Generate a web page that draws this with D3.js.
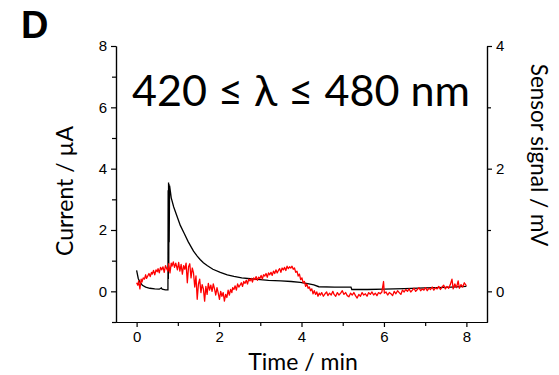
<!DOCTYPE html>
<html>
<head>
<meta charset="utf-8">
<script src="https://cdn.jsdelivr.net/npm/d3@7"></script>
<style>
  body { margin: 0; background: #fff; }
  svg text { fill: #000; }
</style>
</head>
<body>
<div id="chart"></div>
<script>
// current (left axis, µA) vs time (min)
const currentData = [
  [0.00, 0.68], [0.04, 0.42], [0.08, 0.30], [0.14, 0.20], [0.22, 0.14], [0.32, 0.10],
  [0.44, 0.08], [0.55, 0.07], [0.60, 0.11], [0.62, 0.07], [0.70, 0.05], [0.76, 0.05],
  [0.765, 3.30], [0.77, 0.40], [0.775, 3.55], [0.78, 0.90], [0.785, 3.50], [0.79, 1.60],
  [0.80, 3.45], [0.82, 3.25], [0.84, 3.05], [0.90, 2.75], [0.98, 2.45], [1.06, 2.15],
  [1.15, 1.90], [1.25, 1.62], [1.38, 1.31], [1.47, 1.15], [1.54, 1.04], [1.62, 0.93],
  [1.71, 0.84], [1.85, 0.72], [2.03, 0.62], [2.20, 0.54], [2.36, 0.49], [2.55, 0.44],
  [2.76, 0.41], [3.00, 0.38], [3.20, 0.36], [3.50, 0.34], [3.75, 0.32], [3.97, 0.29],
  [4.15, 0.25], [4.30, 0.21], [4.42, 0.15], [4.80, 0.14], [5.20, 0.14], [5.22, 0.06],
  [5.60, 0.06], [6.00, 0.07], [6.50, 0.09], [7.00, 0.11], [7.50, 0.13], [8.00, 0.16]
];

// sensor signal (right axis, mV) vs time (min)
const sensorData = [
  [0.00, 0.14], [0.03, 0.10], [0.05, 0.17], [0.08, 0.04], [0.11, 0.20], [0.13, 0.15],
  [0.16, 0.22], [0.19, 0.20], [0.22, 0.27], [0.24, 0.21], [0.27, 0.25], [0.30, 0.29],
  [0.33, 0.24], [0.36, 0.31], [0.38, 0.28], [0.41, 0.34], [0.44, 0.27], [0.47, 0.35],
  [0.50, 0.32], [0.52, 0.37], [0.55, 0.30], [0.58, 0.39], [0.61, 0.35], [0.64, 0.40],
  [0.67, 0.31], [0.70, 0.42], [0.73, 0.37], [0.76, 0.33], [0.78, 0.45], [0.81, 0.30],
  [0.84, 0.46], [0.86, 0.41], [0.89, 0.48], [0.92, 0.39], [0.95, 0.46], [0.99, 0.35],
  [1.02, 0.47], [1.05, 0.33], [1.08, 0.44], [1.11, 0.28], [1.14, 0.42], [1.17, 0.36],
  [1.20, 0.46], [1.23, 0.14], [1.26, 0.40], [1.29, 0.45], [1.32, 0.22], [1.35, 0.38],
  [1.38, 0.30], [1.41, 0.07], [1.44, 0.25], [1.47, -0.13], [1.50, 0.12], [1.53, 0.20],
  [1.56, -0.02], [1.59, 0.11], [1.62, 0.04], [1.65, -0.16], [1.68, 0.08], [1.71, -0.05],
  [1.74, 0.13], [1.77, 0.02], [1.80, 0.10], [1.83, 0.00], [1.86, 0.12], [1.89, 0.04],
  [1.92, -0.06], [1.95, 0.06], [1.98, -0.03], [2.01, -0.13], [2.04, 0.00], [2.07, -0.08],
  [2.10, -0.02], [2.13, -0.16], [2.16, -0.05], [2.19, -0.10], [2.22, 0.02], [2.25, -0.06],
  [2.28, 0.03], [2.31, -0.02], [2.33, 0.06], [2.36, 0.03], [2.39, 0.09], [2.42, 0.02],
  [2.45, 0.12], [2.48, 0.07], [2.51, 0.10], [2.54, 0.14], [2.57, 0.08], [2.60, 0.16],
  [2.63, 0.13], [2.66, 0.18], [2.69, 0.12], [2.72, 0.20], [2.75, 0.17], [2.78, 0.21],
  [2.81, 0.15], [2.84, 0.22], [2.87, 0.19], [2.90, 0.24], [2.93, 0.18], [2.96, 0.23],
  [2.99, 0.21], [3.02, 0.26], [3.05, 0.20], [3.08, 0.27], [3.11, 0.25], [3.14, 0.29],
  [3.17, 0.23], [3.20, 0.30], [3.23, 0.27], [3.26, 0.31], [3.29, 0.26], [3.32, 0.33],
  [3.35, 0.29], [3.38, 0.35], [3.41, 0.30], [3.44, 0.34], [3.47, 0.37], [3.50, 0.31],
  [3.53, 0.38], [3.56, 0.35], [3.59, 0.39], [3.62, 0.34], [3.65, 0.41], [3.68, 0.37],
  [3.71, 0.40], [3.74, 0.38], [3.77, 0.41], [3.80, 0.36], [3.83, 0.38], [3.86, 0.31],
  [3.89, 0.33], [3.92, 0.25], [3.95, 0.28], [3.98, 0.19], [4.01, 0.22], [4.04, 0.14],
  [4.07, 0.16], [4.10, 0.08], [4.13, 0.12], [4.16, 0.05], [4.19, 0.07], [4.22, 0.01],
  [4.25, 0.04], [4.28, -0.04], [4.31, 0.01], [4.34, -0.05], [4.37, -0.01], [4.40, -0.08],
  [4.43, -0.03], [4.46, -0.06], [4.49, -0.02], [4.53, -0.08], [4.57, -0.04], [4.61, -0.01],
  [4.64, -0.07], [4.68, -0.03], [4.72, -0.06], [4.76, 0.00], [4.79, -0.05], [4.83, -0.08],
  [4.87, -0.02], [4.91, -0.06], [4.95, -0.03], [4.99, 0.01], [5.03, -0.05], [5.07, -0.02],
  [5.11, -0.07], [5.15, -0.09], [5.19, -0.03], [5.23, -0.06], [5.27, -0.02], [5.31, -0.07],
  [5.35, -0.11], [5.39, -0.05], [5.43, -0.08], [5.47, -0.02], [5.51, -0.06], [5.55, -0.04],
  [5.59, -0.08], [5.63, -0.02], [5.67, -0.05], [5.71, -0.01], [5.75, -0.06], [5.79, -0.03],
  [5.83, -0.07], [5.87, -0.02], [5.91, -0.04], [5.95, -0.01], [5.99, 0.16], [6.01, -0.03],
  [6.05, -0.01], [6.09, -0.06], [6.13, -0.02], [6.17, -0.04], [6.21, -0.07], [6.25, 0.00],
  [6.29, -0.04], [6.33, 0.01], [6.37, -0.02], [6.41, -0.05], [6.45, 0.02], [6.49, -0.01],
  [6.53, 0.03], [6.57, 0.00], [6.61, 0.04], [6.65, -0.01], [6.69, 0.02], [6.73, 0.05],
  [6.77, 0.00], [6.81, 0.03], [6.85, 0.06], [6.89, 0.01], [6.93, 0.04], [6.97, 0.02],
  [7.01, 0.06], [7.05, 0.01], [7.09, 0.05], [7.13, 0.03], [7.17, 0.07], [7.21, 0.02],
  [7.25, 0.06], [7.29, 0.04], [7.33, 0.08], [7.37, 0.03], [7.41, 0.07], [7.45, 0.10],
  [7.49, 0.04], [7.53, 0.08], [7.57, 0.05], [7.61, 0.11], [7.65, 0.20], [7.68, 0.04],
  [7.72, 0.12], [7.76, 0.06], [7.80, 0.17], [7.83, 0.05], [7.87, 0.11], [7.91, 0.07],
  [7.95, 0.14], [8.00, 0.09]
];

const xTicks = [0, 2, 4, 6, 8];
const xMinor = [1, 3, 5, 7];
const yLeftTicks = [0, 2, 4, 6, 8];
const yLeftMinor = [-1, 1, 3, 5, 7];
const yRightTicks = [0, 2, 4];
const yRightMinor = [1, 3];

const width = 559, height = 375;
const margin = {top: 46, right: 72, bottom: 53, left: 116};

const svg = d3.select('#chart').append('svg')
    .attr('width', width)
    .attr('height', height);

const x = d3.scaleLinear().domain([-0.5, 8.5]).range([margin.left, width - margin.right]);
const yL = d3.scaleLinear().domain([-1, 8]).range([height - margin.bottom, margin.top]);
const yR = d3.scaleLinear().domain([-0.5, 4]).range([height - margin.bottom, margin.top]);

const tickFont = '"Liberation Sans", Arial, sans-serif';
const labelFont = 'Lato, "Open Sans", sans-serif';
const fmt = d3.format('d');

function styleAxis(g) {
    g.select('.domain').attr('stroke', '#000').attr('stroke-width', 1.2);
    g.selectAll('.tick line').attr('stroke', '#000').attr('stroke-width', 1.2);
    g.selectAll('.tick text').attr('font-family', tickFont).attr('font-size', 15).attr('fill', '#000');
}

// minor ticks first, then major axes on top
svg.append('g')
    .attr('transform', `translate(0,${height - margin.bottom})`)
    .call(d3.axisBottom(x).tickValues(xMinor).tickSize(4).tickFormat('').tickSizeOuter(0))
    .call(styleAxis);
svg.append('g')
    .attr('transform', `translate(${margin.left},0)`)
    .call(d3.axisLeft(yL).tickValues(yLeftMinor).tickSize(4).tickFormat('').tickSizeOuter(0))
    .call(styleAxis);
svg.append('g')
    .attr('transform', `translate(${width - margin.right},0)`)
    .call(d3.axisRight(yR).tickValues(yRightMinor).tickSize(4).tickFormat('').tickSizeOuter(0))
    .call(styleAxis);

svg.append('g')
    .attr('transform', `translate(0,${height - margin.bottom})`)
    .call(d3.axisBottom(x).tickValues(xTicks).tickFormat(fmt).tickSize(5).tickPadding(4).tickSizeOuter(0))
    .call(styleAxis);
svg.append('g')
    .attr('transform', `translate(${margin.left},0)`)
    .call(d3.axisLeft(yL).tickValues(yLeftTicks).tickFormat(fmt).tickSize(5).tickPadding(4).tickSizeOuter(0))
    .call(styleAxis);
svg.append('g')
    .attr('transform', `translate(${width - margin.right},0)`)
    .call(d3.axisRight(yR).tickValues(yRightTicks).tickFormat(fmt).tickSize(5).tickPadding(4).tickSizeOuter(0))
    .call(styleAxis);

// curves
const lineL = d3.line().x(d => x(d[0])).y(d => yL(d[1]));
const lineR = d3.line().x(d => x(d[0])).y(d => yR(d[1]));

svg.append('path')
    .datum(currentData)
    .attr('fill', 'none')
    .attr('stroke', '#000')
    .attr('stroke-width', 1.3)
    .attr('d', lineL);

svg.append('path')
    .datum(sensorData)
    .attr('fill', 'none')
    .attr('stroke', '#ff0000')
    .attr('stroke-width', 1.3)
    .attr('stroke-linejoin', 'round')
    .attr('d', lineR);

// texts
svg.append('text')
    .attr('x', 21).attr('y', 38)
    .attr('font-family', tickFont)
    .attr('font-weight', 'bold')
    .attr('font-size', 38)
    .text('D');

svg.append('text')
    .attr('x', 301).attr('y', 106)
    .attr('text-anchor', 'middle')
    .attr('font-family', labelFont)
    .attr('font-size', 42)
    .attr('textLength', 338)
    .attr('lengthAdjust', 'spacingAndGlyphs')
    .text('420 ≤ λ ≤ 480 nm');

svg.append('text')
    .attr('x', 303).attr('y', 370)
    .attr('text-anchor', 'middle')
    .attr('font-family', labelFont)
    .attr('font-size', 23)
    .text('Time / min');

svg.append('text')
    .attr('transform', 'translate(73,191) rotate(-90)')
    .attr('text-anchor', 'middle')
    .attr('font-family', labelFont)
    .attr('font-size', 23)
    .text('Current / µA');

svg.append('text')
    .attr('transform', 'translate(531,155) rotate(90)')
    .attr('text-anchor', 'middle')
    .attr('font-family', labelFont)
    .attr('font-size', 22.5)
    .text('Sensor signal / mV');
</script>
</body>
</html>
